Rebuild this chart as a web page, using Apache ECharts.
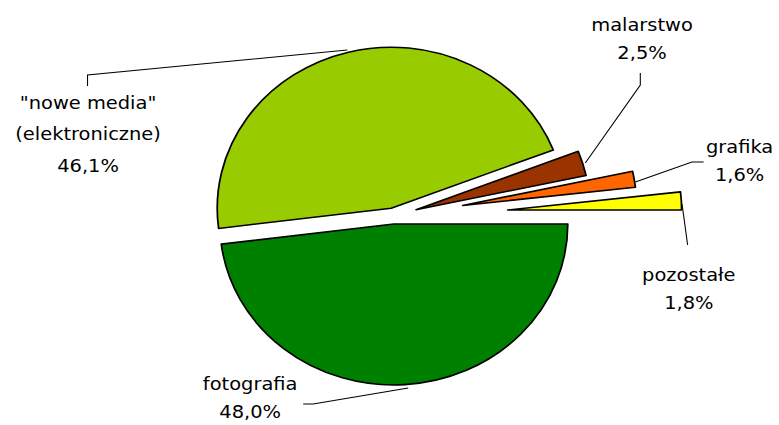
<!DOCTYPE html>
<html>
<head>
<meta charset="utf-8">
<script src="https://cdn.jsdelivr.net/npm/echarts@6/dist/echarts.min.js"></script>
<style>
html,body{margin:0;padding:0;background:#fff;overflow:hidden}
#wrap{width:779px;height:425px;overflow:hidden}
#chart{width:721px;height:425px;transform:scaleX(1.0805);transform-origin:0 0}
</style>
</head>
<body>
<div id="wrap"><div id="chart"></div></div>
<script>
// ---- data ----
const categories = ['fotografia', '"nowe media"\n(elektroniczne)', 'malarstwo', 'grafika', 'pozostałe'];
const shares = [48.0, 46.1, 2.5, 1.6, 1.8];
const sliceColors = ['#008000', '#99CC00', '#993300', '#FF6600', '#FFFF00'];

// ---- layout / style ----
const CENTER = [364, 216];
const RADIUS = 161;
const explodeGroups = [
  { offset: 8, items: [0, 1] },
  { offset: 22, items: [2] },
  { offset: 65, items: [3] },
  { offset: 106, items: [4] }
];
const labelSpots = [
  { x: 231.5, y: 398, lh: 28, line: [[377.8, 388], [289.8, 404], [280.6, 404]] },
  { x: 81.5, y: 134, lh: 31.5, line: [[321.5, 50], [81, 75], [81, 86]] },
  { x: 594.2, y: 39, lh: 28, line: [[541.7, 163], [592.6, 85], [592.6, 73]] },
  { x: 684.5, y: 161, lh: 28, line: [[588, 182], [640.4, 162], [651.2, 162]] },
  { x: 637.5, y: 289, lh: 28, line: [[631.2, 204], [633.5, 222], [636.4, 245]] }
];

function fmtPct(v) { return v.toFixed(1).replace('.', ',') + '%'; }

const sectorSeries = explodeGroups.map(g => ({
  type: 'pie',
  center: CENTER,
  radius: RADIUS,
  startAngle: 0,
  clockwise: true,
  selectedMode: 'multiple',
  selectedOffset: g.offset,
  silent: true,
  animation: false,
  avoidLabelOverlap: false,
  label: { show: false },
  labelLine: { show: false },
  emphasis: { disabled: true },
  data: shares.map((v, i) => {
    const on = g.items.includes(i);
    return {
      name: categories[i],
      value: v,
      selected: on,
      itemStyle: on
        ? { color: sliceColors[i], borderColor: '#000', borderWidth: 1.6 }
        : { color: 'rgba(0,0,0,0)', borderWidth: 0 }
    };
  })
}));

const labelSeries = {
  type: 'pie',
  center: CENTER,
  radius: RADIUS,
  startAngle: 0,
  clockwise: true,
  silent: true,
  animation: false,
  avoidLabelOverlap: false,
  emphasis: { disabled: true },
  itemStyle: { color: 'rgba(0,0,0,0)', borderWidth: 0 },
  label: {
    show: true,
    position: 'outside',
    fontFamily: 'DejaVu Sans',
    fontSize: 18,
    color: '#000',
    align: 'center',
    formatter: p => categories[p.dataIndex] + '\n' + fmtPct(shares[p.dataIndex])
  },
  labelLine: { show: true, lineStyle: { color: '#000', width: 1 } },
  labelLayout: p => {
    const s = labelSpots[p.dataIndex];
    return { x: s.x, y: s.y, align: 'center', verticalAlign: 'middle', labelLinePoints: s.line };
  },
  data: shares.map((v, i) => ({
    name: categories[i],
    value: v,
    label: { lineHeight: labelSpots[i].lh }
  }))
};

const chart = echarts.init(document.getElementById('chart'), null, { renderer: 'svg' });
chart.setOption({
  animation: false,
  backgroundColor: '#fff',
  series: sectorSeries.concat([labelSeries])
});
</script>
</body>
</html>
